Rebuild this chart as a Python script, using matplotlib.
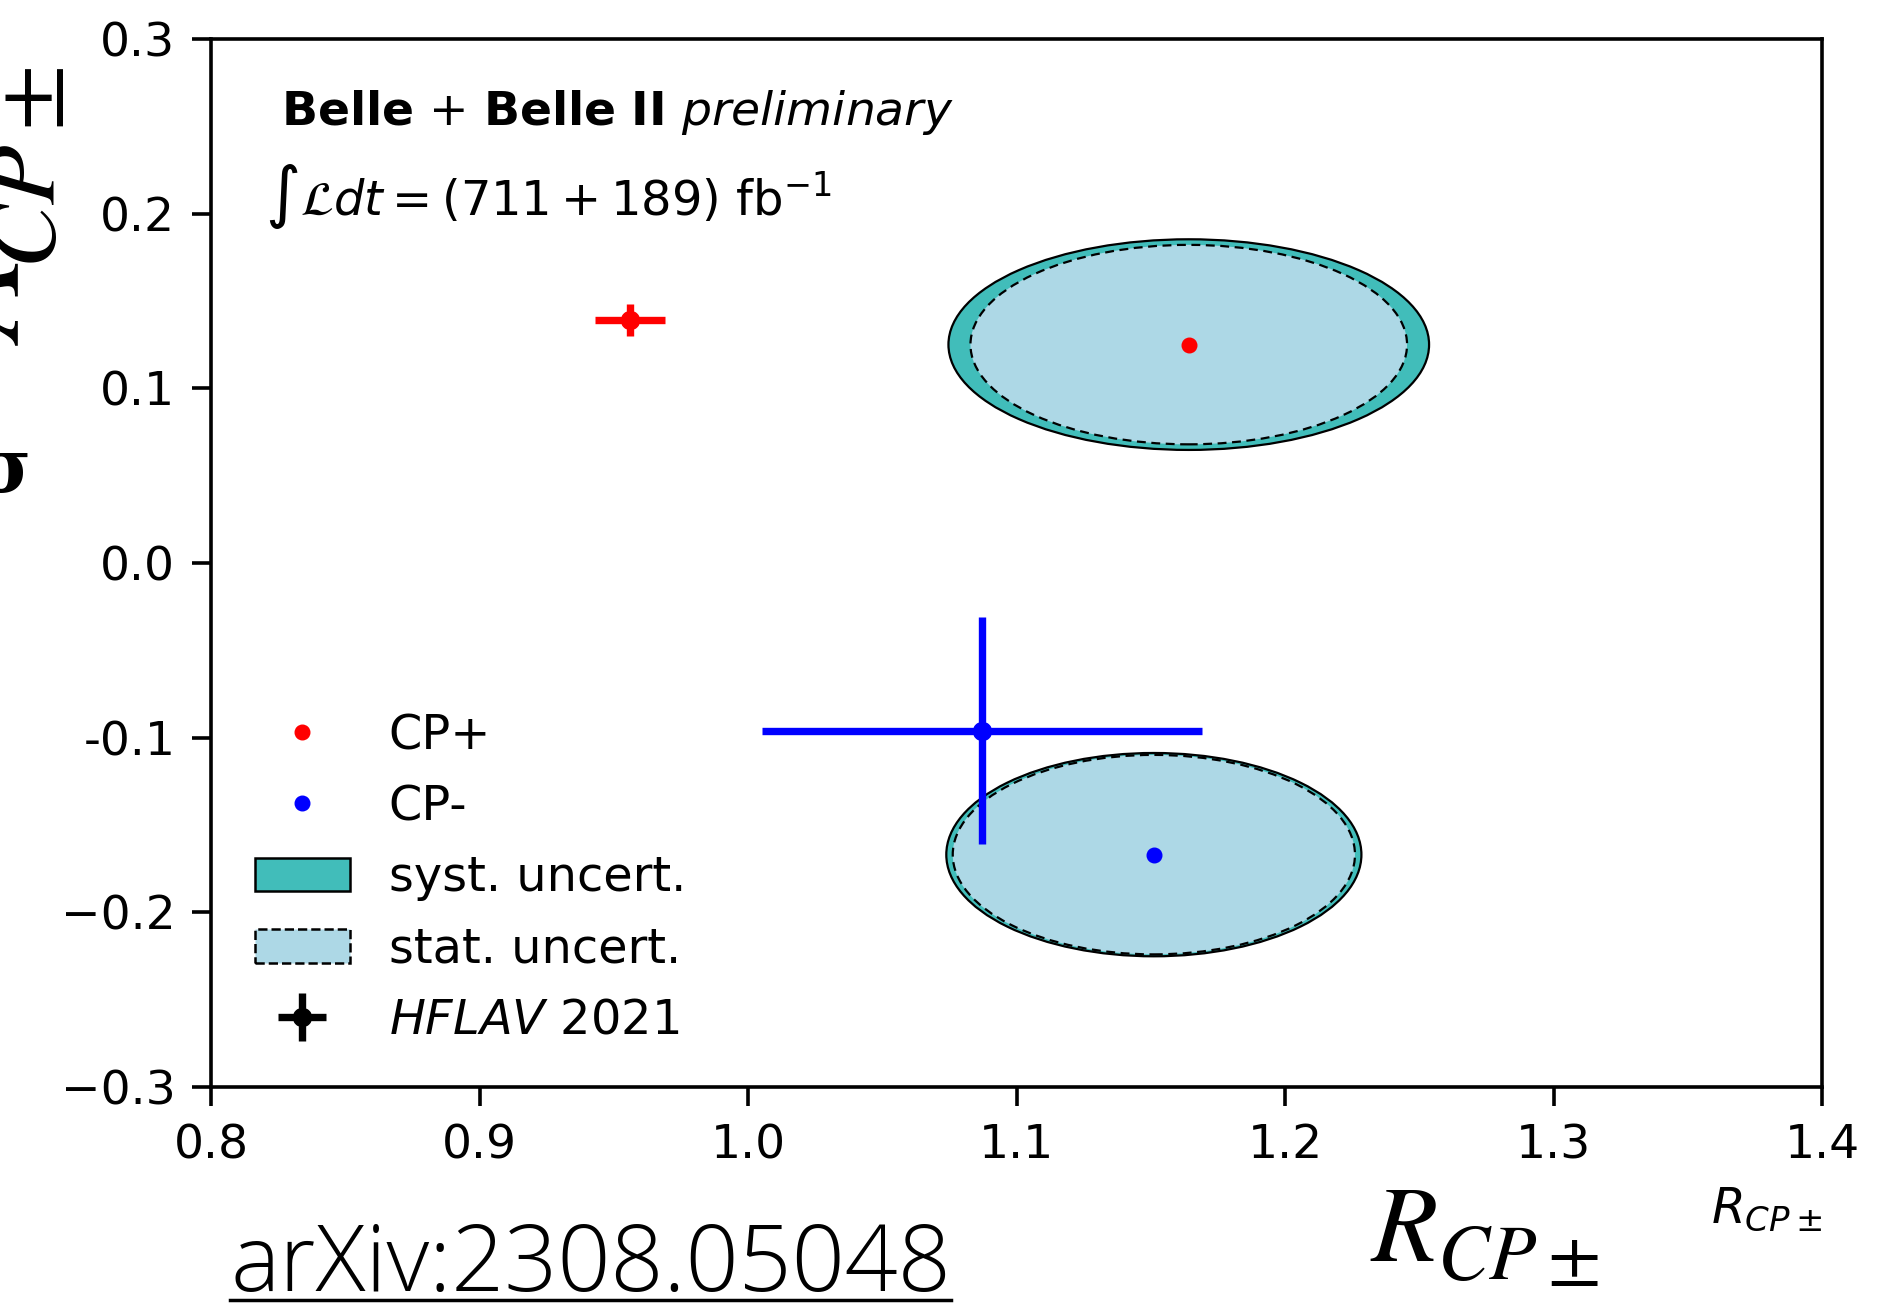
import numpy as np
import matplotlib
matplotlib.use("Agg")
import matplotlib.pyplot as plt
from matplotlib.patches import Ellipse, Patch
from matplotlib.lines import Line2D

# measured points (centre) and error ellipse half-axes
cp_labels = ["CP+", "CP-"]
cp_colors = ["red", "blue"]
cp_r = [1.164, 1.151]
cp_a = [0.125, -0.167]
tot_r_err = [0.0895, 0.0773]   # stat + syst
tot_a_err = [0.0603, 0.0582]
stat_r_err = [0.0813, 0.0749]
stat_a_err = [0.0571, 0.0571]

# HFLAV 2021 averages
hflav_r = [0.956, 1.087]
hflav_a = [0.139, -0.096]
hflav_r_err = [0.013, 0.082]
hflav_a_err = [0.009, 0.065]

xticks = [0.8, 0.9, 1.0, 1.1, 1.2, 1.3, 1.4]
yticks = [-0.3, -0.2, -0.1, 0.0, 0.1, 0.2, 0.3]
ytick_labels = ["\u22120.3", "\u22120.2", "-0.1", "0.0", "0.1", "0.2", "0.3"]

syst_col = "#41bdba"
stat_col = "lightblue"
fs = 34

fig = plt.figure(figsize=(18.96, 13.11), dpi=100)
ax = fig.add_axes([0.1115, 0.1709, 0.8497, 0.7994])

for i in range(len(cp_r)):
    ax.add_patch(Ellipse((cp_r[i], cp_a[i]), 2 * tot_r_err[i], 2 * tot_a_err[i],
                         facecolor=syst_col, edgecolor="black", lw=1.6, zorder=2))
    ax.add_patch(Ellipse((cp_r[i], cp_a[i]), 2 * stat_r_err[i], 2 * stat_a_err[i],
                         facecolor=stat_col, edgecolor="black", lw=1.6,
                         ls=(0, (4, 2.5)), zorder=3))

dots = []
for i in range(len(cp_r)):
    d, = ax.plot(cp_r[i], cp_a[i], "o", color=cp_colors[i], ms=10.5, ls="none", zorder=5)
    dots.append(d)
    ax.errorbar(hflav_r[i], hflav_a[i], xerr=hflav_r_err[i], yerr=hflav_a_err[i],
                fmt="o", color=cp_colors[i], ms=13, elinewidth=5.3, zorder=6)

hfl = ax.errorbar([np.nan], [np.nan], xerr=[0.01], yerr=[0.01], fmt="o",
                  color="black", ms=13, elinewidth=5.3)

ax.set_xlim(0.8, 1.4)
ax.set_ylim(-0.3, 0.3)
ax.set_xticks(xticks)
ax.set_xticklabels(["%.1f" % v for v in xticks])
ax.set_yticks(yticks)
ax.set_yticklabels(ytick_labels)
ax.tick_params(labelsize=fs, length=14, width=2.6, pad=12)
for s in ax.spines.values():
    s.set_linewidth(2.6)

ax.set_xlabel(r"$R_{CP\pm}$", fontsize=35, loc="right", labelpad=12)

handles = [dots[0], dots[1],
           Patch(facecolor=syst_col, edgecolor="black", lw=1.8),
           Patch(facecolor=stat_col, edgecolor="black", lw=1.8, ls="--"),
           hfl]
labels = ["CP+", "CP-", "syst. uncert.", "stat. uncert.", r"$\it{HFLAV}$ 2021"]
ax.legend(handles, labels, loc="lower left", frameon=False, fontsize=34.5,
          numpoints=1, labelspacing=0.505)

ax.text(0.0435, 0.918, r"$\bf{Belle}$ + $\bf{Belle\ II}$ $\it{preliminary}$",
        transform=ax.transAxes, fontsize=fs, va="baseline")
ax.text(0.033, 0.832, r"$\int\mathcal{L}dt = (711 + 189)$ fb$^{-1}$",
        transform=ax.transAxes, fontsize=34.5, va="baseline")

# slide annotations around the plot
fig.text(0.7226, 0.038, r"$R$", fontsize=78, math_fontfamily="stix",
         ha="left", va="baseline")
fig.text(0.758, 0.0244, r"$CP\pm$", fontsize=56, math_fontfamily="stix",
         ha="left", va="baseline")
fig.text(0.029, 0.949, r"$CP\pm$", fontsize=70, math_fontfamily="stix",
         rotation=90, rotation_mode="anchor", ha="right", va="baseline")
fig.text(0.0095, 0.801, r"$A$", fontsize=96, math_fontfamily="stix",
         rotation=90, rotation_mode="anchor", ha="right", va="baseline")
fig.text(0.0165, 0.64, "\u03c3", fontsize=54, family="DejaVu Serif",
         fontweight="bold", ha="right", va="center")
arx = fig.text(0.1215, 0.0153, "arXiv:2308.05048", fontsize=67, family="Open Sans",
               fontweight="light", ha="left", va="baseline")

fig.canvas.draw()
bb = arx.get_window_extent(fig.canvas.get_renderer()).transformed(fig.transFigure.inverted())
fig.add_artist(Line2D([bb.x0, bb.x1], [0.0085, 0.0085], transform=fig.transFigure,
                      color="black", lw=2.5))

fig.savefig("out.png", dpi=100)
